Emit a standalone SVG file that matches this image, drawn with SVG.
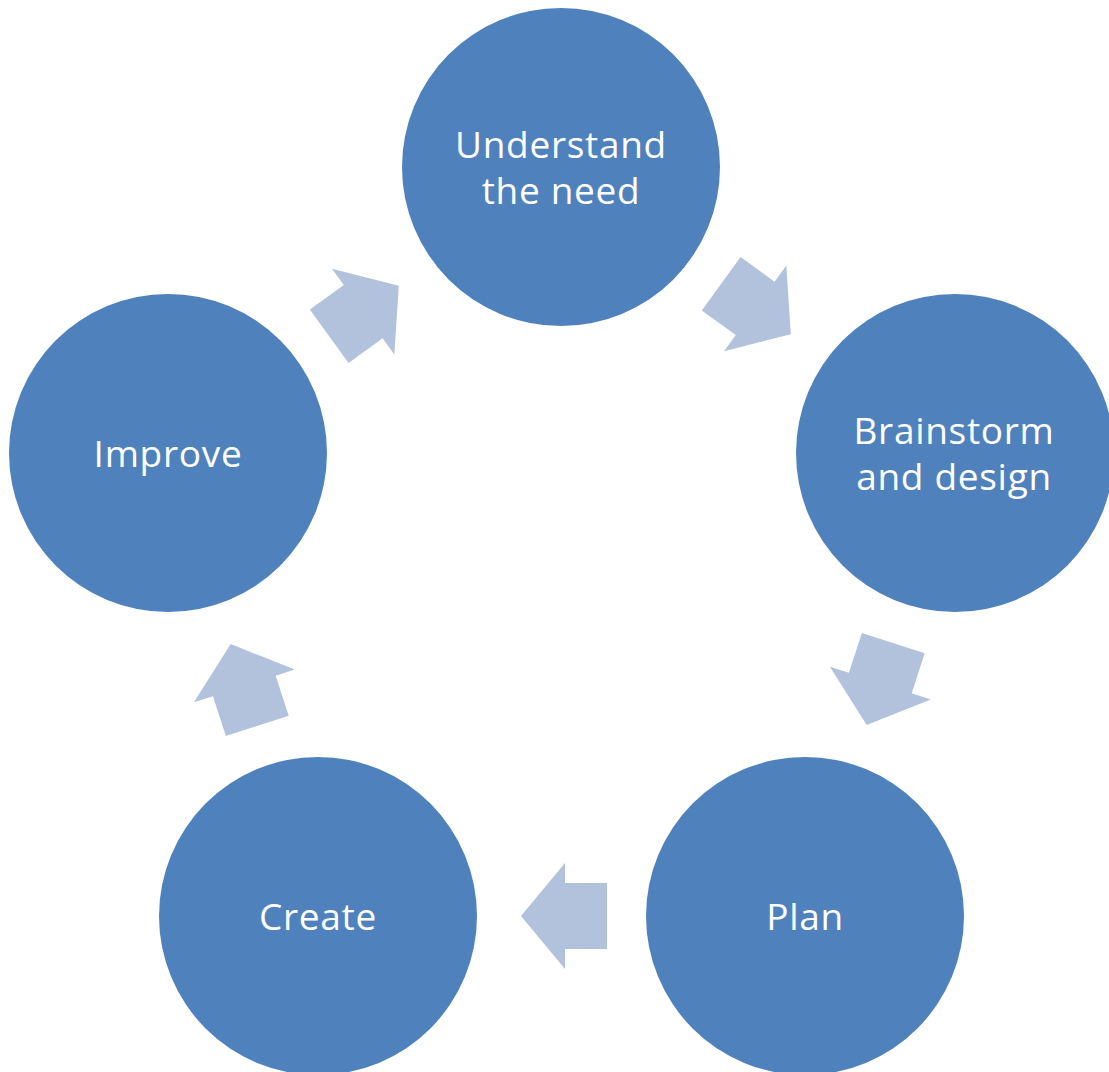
<svg xmlns="http://www.w3.org/2000/svg" width="1109" height="1072" viewBox="0 0 1109 1072">
<style>
.node{fill:#4F81BD}
.lbl{fill:#FFFFFF;font-family:"Open Sans","Liberation Sans",sans-serif;font-size:37px;letter-spacing:0.7px;text-anchor:middle}
.arr{fill:#B2C2DD}
</style>
<defs>
<polygon id="arrow" points="-43,-33 -1,-33 -1,-53 43,0 -1,53 -1,33 -43,33"/>
</defs>
<rect width="1109" height="1072" fill="#FFFFFF"/>
<g id="connectors">
<use href="#arrow" class="arr" transform="translate(756,309) rotate(36)"/>
<use href="#arrow" class="arr" transform="translate(880,684) rotate(108)"/>
<use href="#arrow" class="arr" transform="translate(564,916) rotate(180)"/>
<use href="#arrow" class="arr" transform="translate(244,685) rotate(252)"/>
<use href="#arrow" class="arr" transform="translate(364,311) rotate(324)"/>
</g>
<g id="understand">
<circle class="node" cx="561" cy="167" r="159"/>
<text class="lbl" x="561" y="158">Understand</text>
<text class="lbl" x="561" y="204">the need</text>
</g>
<g id="brainstorm">
<circle class="node" cx="955" cy="453" r="159"/>
<text class="lbl" x="954" y="444">Brainstorm</text>
<text class="lbl" x="954" y="490">and design</text>
</g>
<g id="plan">
<circle class="node" cx="805" cy="916" r="159"/>
<text class="lbl" x="805" y="930">Plan</text>
</g>
<g id="create">
<circle class="node" cx="318" cy="916" r="159"/>
<text class="lbl" x="318" y="930">Create</text>
</g>
<g id="improve">
<circle class="node" cx="168" cy="453" r="159"/>
<text class="lbl" x="168" y="467">Improve</text>
</g>
</svg>
